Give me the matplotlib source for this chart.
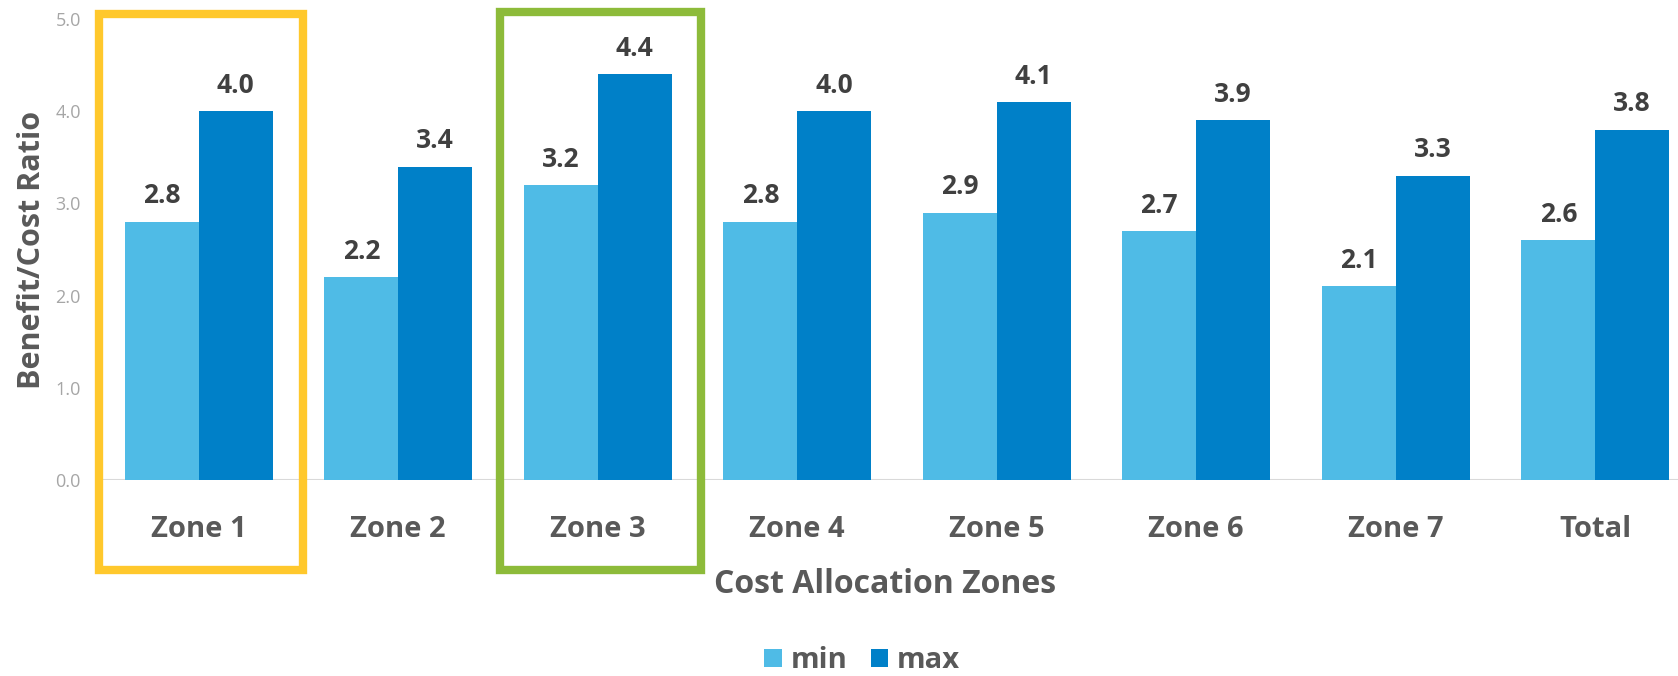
import matplotlib.pyplot as plt
from matplotlib.patches import Rectangle
import numpy as np

zones = ['Zone 1', 'Zone 2', 'Zone 3', 'Zone 4', 'Zone 5', 'Zone 6', 'Zone 7', 'Total']
min_vals = [2.8, 2.2, 3.2, 2.8, 2.9, 2.7, 2.1, 2.6]
max_vals = [4.0, 3.4, 4.4, 4.0, 4.1, 3.9, 3.3, 3.8]
yticks = [0.0, 1.0, 2.0, 3.0, 4.0, 5.0]

plt.rcParams['font.family'] = ['Open Sans', 'DejaVu Sans']

W, H = 1678, 676
fig = plt.figure(figsize=(W / 100, H / 100), dpi=100)
ax = fig.add_axes([99 / W, (H - 480) / H, 1596 / W, 461 / H])

x = np.arange(len(zones))
bw = 0.37
b1 = ax.bar(x - bw / 2, min_vals, bw, color='#4FBBE6', label='min')
b2 = ax.bar(x + bw / 2, max_vals, bw, color='#0080C8', label='max')

for bars, vals in ((b1, min_vals), (b2, max_vals)):
    for b, v in zip(bars, vals):
        ax.text(b.get_x() + b.get_width() / 2, v + 0.2, f'{v:.1f}', ha='center', va='baseline',
                fontsize=19, fontweight='bold', color='#404040')

ax.set_xlim(-0.5, len(zones) - 0.5)
ax.set_ylim(0, 5)
ax.set_yticks(yticks)
ax.set_yticklabels([f'{t:.1f}' for t in yticks], fontsize=13, color='#A6A6A6')
ax.set_xticks(x)
ax.set_xticklabels(zones, fontsize=21, fontweight='bold', color='#595959')
ax.tick_params(axis='both', length=0)
ax.tick_params(axis='x', pad=25)
ax.tick_params(axis='y', pad=13)
for s in ax.spines.values():
    s.set_visible(False)
ax.axhline(0, color='#D9D9D9', lw=1.5, zorder=0)

ax.set_ylabel('Benefit/Cost Ratio', fontsize=22, fontweight='bold', color='#595959', labelpad=6)
ax.set_xlabel('Cost Allocation Zones', fontsize=23, fontweight='bold', color='#595959')
ax.xaxis.set_label_coords((885 - 99) / 1596, -0.19)

leg = fig.legend(loc='center', bbox_to_anchor=(862 / W, 1 - 661 / H), ncol=2, frameon=False,
                 fontsize=21, handlelength=0.6, handleheight=0.6, columnspacing=0.8, handletextpad=0.3)
for t in leg.get_texts():
    t.set_fontweight('bold')
    t.set_color('#595959')

# highlight boxes around Zone 1 and Zone 3
fig.patches.append(Rectangle((99 / W, 1 - 570 / H), 204 / W, 556 / H, transform=fig.transFigure,
                             fill=False, edgecolor='#FFC82C', lw=6))
fig.patches.append(Rectangle((500 / W, 1 - 570 / H), 201 / W, 558 / H, transform=fig.transFigure,
                             fill=False, edgecolor='#8DBB3A', lw=6))

fig.savefig('out.png', dpi=100)
